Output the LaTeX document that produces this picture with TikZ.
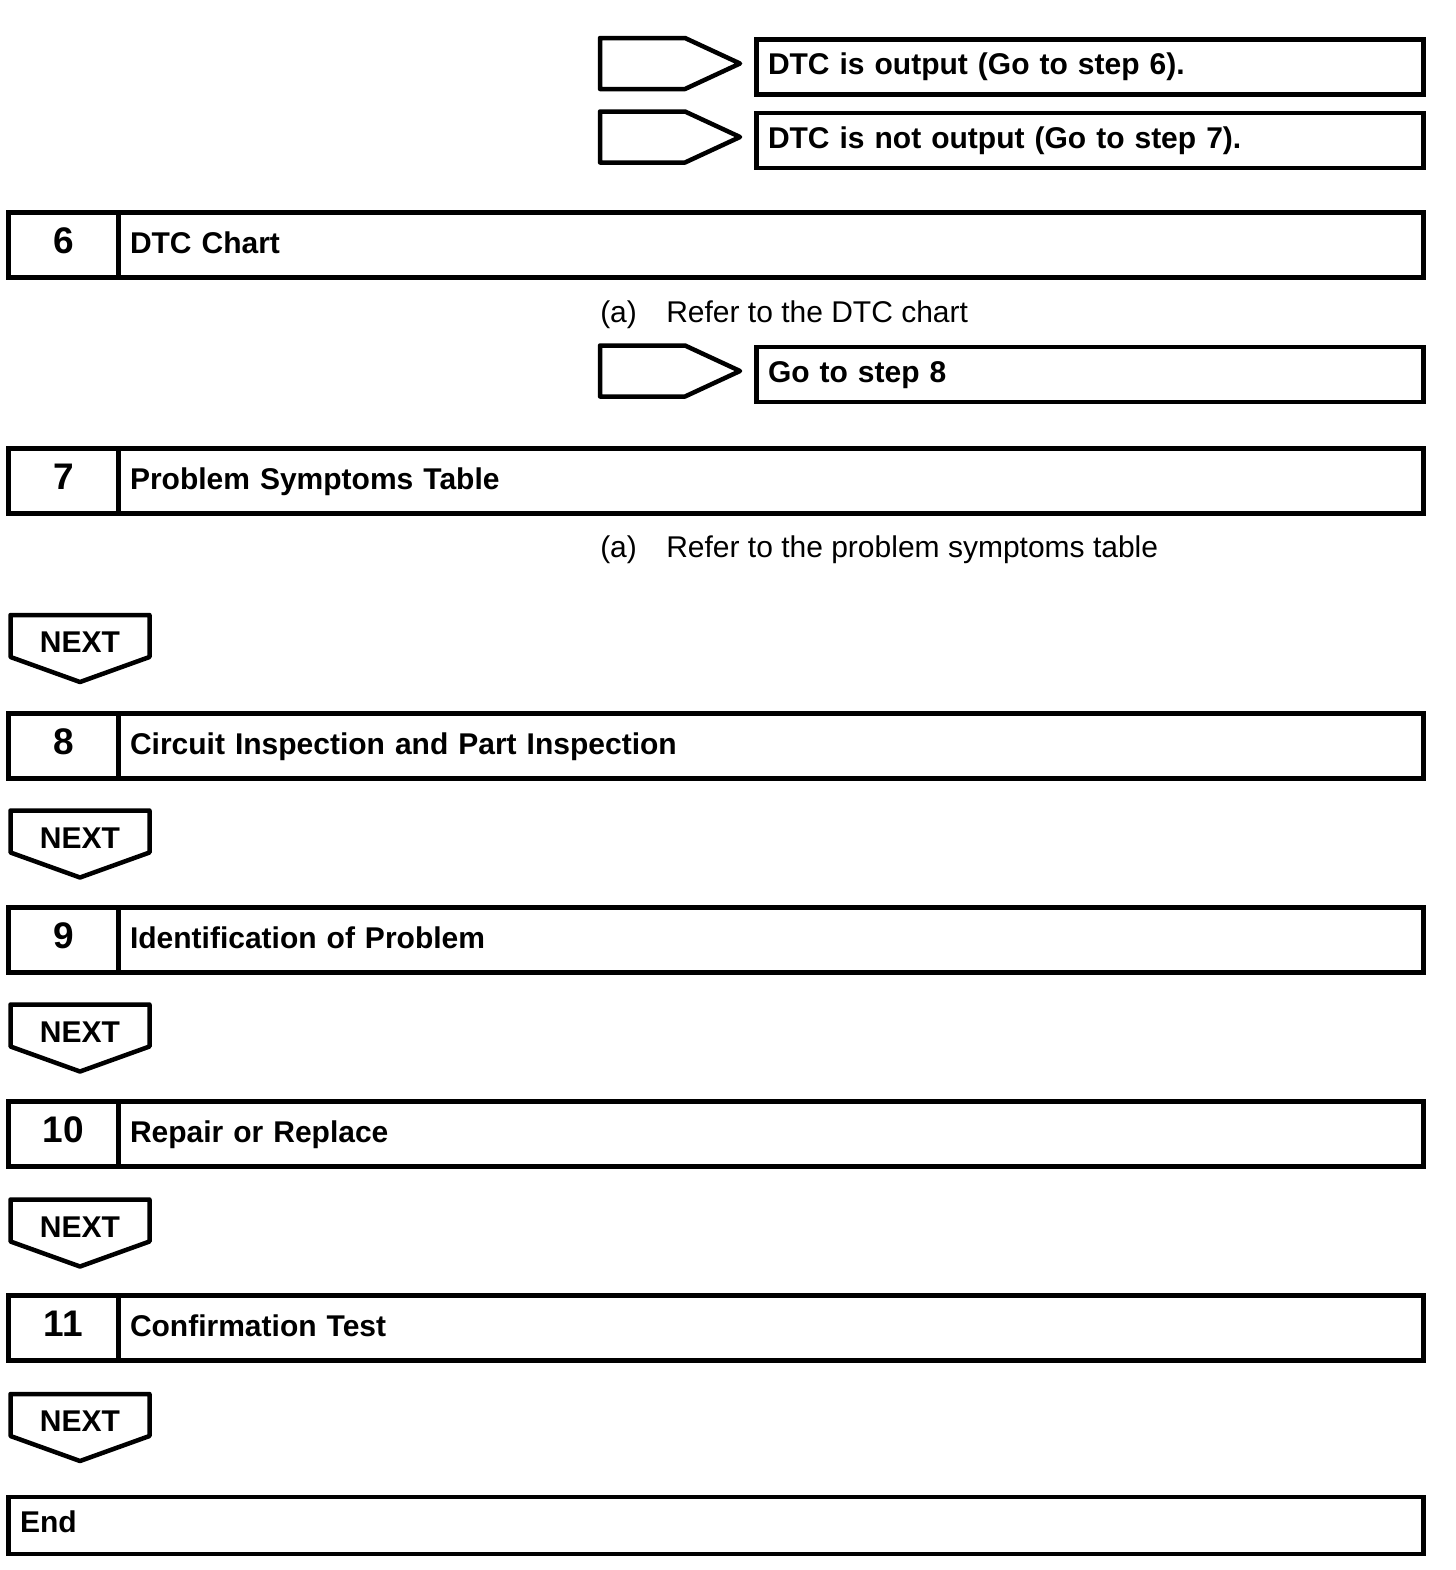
\documentclass[tikz,border=0pt]{standalone}
\usepackage{fontspec}
\setmainfont{Liberation Sans}
\usetikzlibrary{positioning,calc}

\tikzset{
  numbox/.style={draw,outer sep=0pt,inner sep=0pt,minimum width=55pt,minimum height=32.5pt,
    text height=11pt,text depth=3pt,font=\bfseries\fontsize{18.5}{20}\selectfont},
  titlebox/.style={draw,outer sep=0pt,inner xsep=5.75pt,inner ysep=0pt,text width=641pt,
    minimum height=32.5pt,text height=11pt,text depth=3pt,align=left,font=\bfseries\fontsize{15}{18}\selectfont},
  gobox/.style={draw,outer sep=0pt,inner xsep=5.75pt,inner ysep=0pt,text width=322pt,
    minimum height=27.5pt,text height=11.75pt,text depth=4.25pt,align=left,font=\bfseries\fontsize{15}{18}\selectfont},
  endbox/.style={draw,outer sep=0pt,inner xsep=5.75pt,inner ysep=0pt,text width=696pt,
    minimum height=28.5pt,text height=10.75pt,text depth=4.25pt,align=left,font=\bfseries\fontsize{15}{18}\selectfont},
  note/.style={anchor=base west,inner sep=0pt,font=\fontsize{15}{18}\selectfont},
  nextlbl/.style={anchor=base,inner sep=0pt,font=\bfseries\fontsize{15}{18}\selectfont},
  pics/goarrow/.style={code={
    \draw[line join=round] (-140,-25.5) -- (-55,-25.5) -- (0,0) -- (-55,25.5) -- (-140,25.5) -- cycle;}},
  pics/nextarrow/.style={code={
    \draw[line join=round] (-69.5,0) -- (69.5,0) -- (69.5,42) -- (0,67) -- (-69.5,42) -- cycle;
    \node[nextlbl] (-lbl) at (0,37.5) {NEXT};}}
}

\begin{document}
\begin{tikzpicture}[x=0.5pt,y=-0.5pt,line width=2.25pt]
  \useasboundingbox (0,0) rectangle (1456,1570);
  % branches after step 5
  \node[gobox,anchor=north west] (go6) at (756.5,39.5) {DTC is output (Go to step 6).};
  \node[gobox,anchor=north west] (go7) at (756.5,113) {DTC is not output (Go to step 7).};
  \pic at ($(go6.west)+(-16.5,-3.5)$) {goarrow};
  \pic at ($(go7.west)+(-16.5,-3.5)$) {goarrow};
  % step 6
  \node[numbox,anchor=north west] (s6) at (8.5,212.5) {6};
  \node[titlebox,right=0pt of s6] (t6) {DTC Chart};
  \node[note] (a6) at (598,322) {(a)};
  \node[note] (r6) at (664,322) {Refer to the DTC chart};
  \node[gobox,anchor=north west] (go8) at (756.5,347) {Go to step 8};
  \pic at ($(go8.west)+(-16.5,-3.5)$) {goarrow};
  % step 7
  \node[numbox,anchor=north west] (s7) at (8.5,448.5) {7};
  \node[titlebox,right=0pt of s7] (t7) {Problem Symptoms Table};
  \node[note] (a7) at (598,557.5) {(a)};
  \node[note] (r7) at (664,557.5) {Refer to the problem symptoms table};
  \pic (nx7) at (80,615) {nextarrow};
  % steps 8 to 11
  \node[numbox,anchor=north west] (s8) at (8.5,713.5) {8};
  \node[titlebox,right=0pt of s8] (t8) {Circuit Inspection and Part Inspection};
  \pic (nx8) at (80,810.5) {nextarrow};
  \node[numbox,anchor=north west] (s9) at (8.5,907.5) {9};
  \node[titlebox,right=0pt of s9] (t9) {Identification of Problem};
  \pic (nx9) at (80,1004.5) {nextarrow};
  \node[numbox,anchor=north west] (s10) at (8.5,1101.5) {10};
  \node[titlebox,right=0pt of s10] (t10) {Repair or Replace};
  \pic (nx10) at (80,1199.5) {nextarrow};
  \node[numbox,anchor=north west] (s11) at (8.5,1295.5) {11};
  \node[titlebox,right=0pt of s11] (t11) {Confirmation Test};
  \pic (nx11) at (80,1394) {nextarrow};
  % end
  \node[endbox,anchor=north west] (fin) at (8.5,1497) {End};
\end{tikzpicture}
\end{document}
